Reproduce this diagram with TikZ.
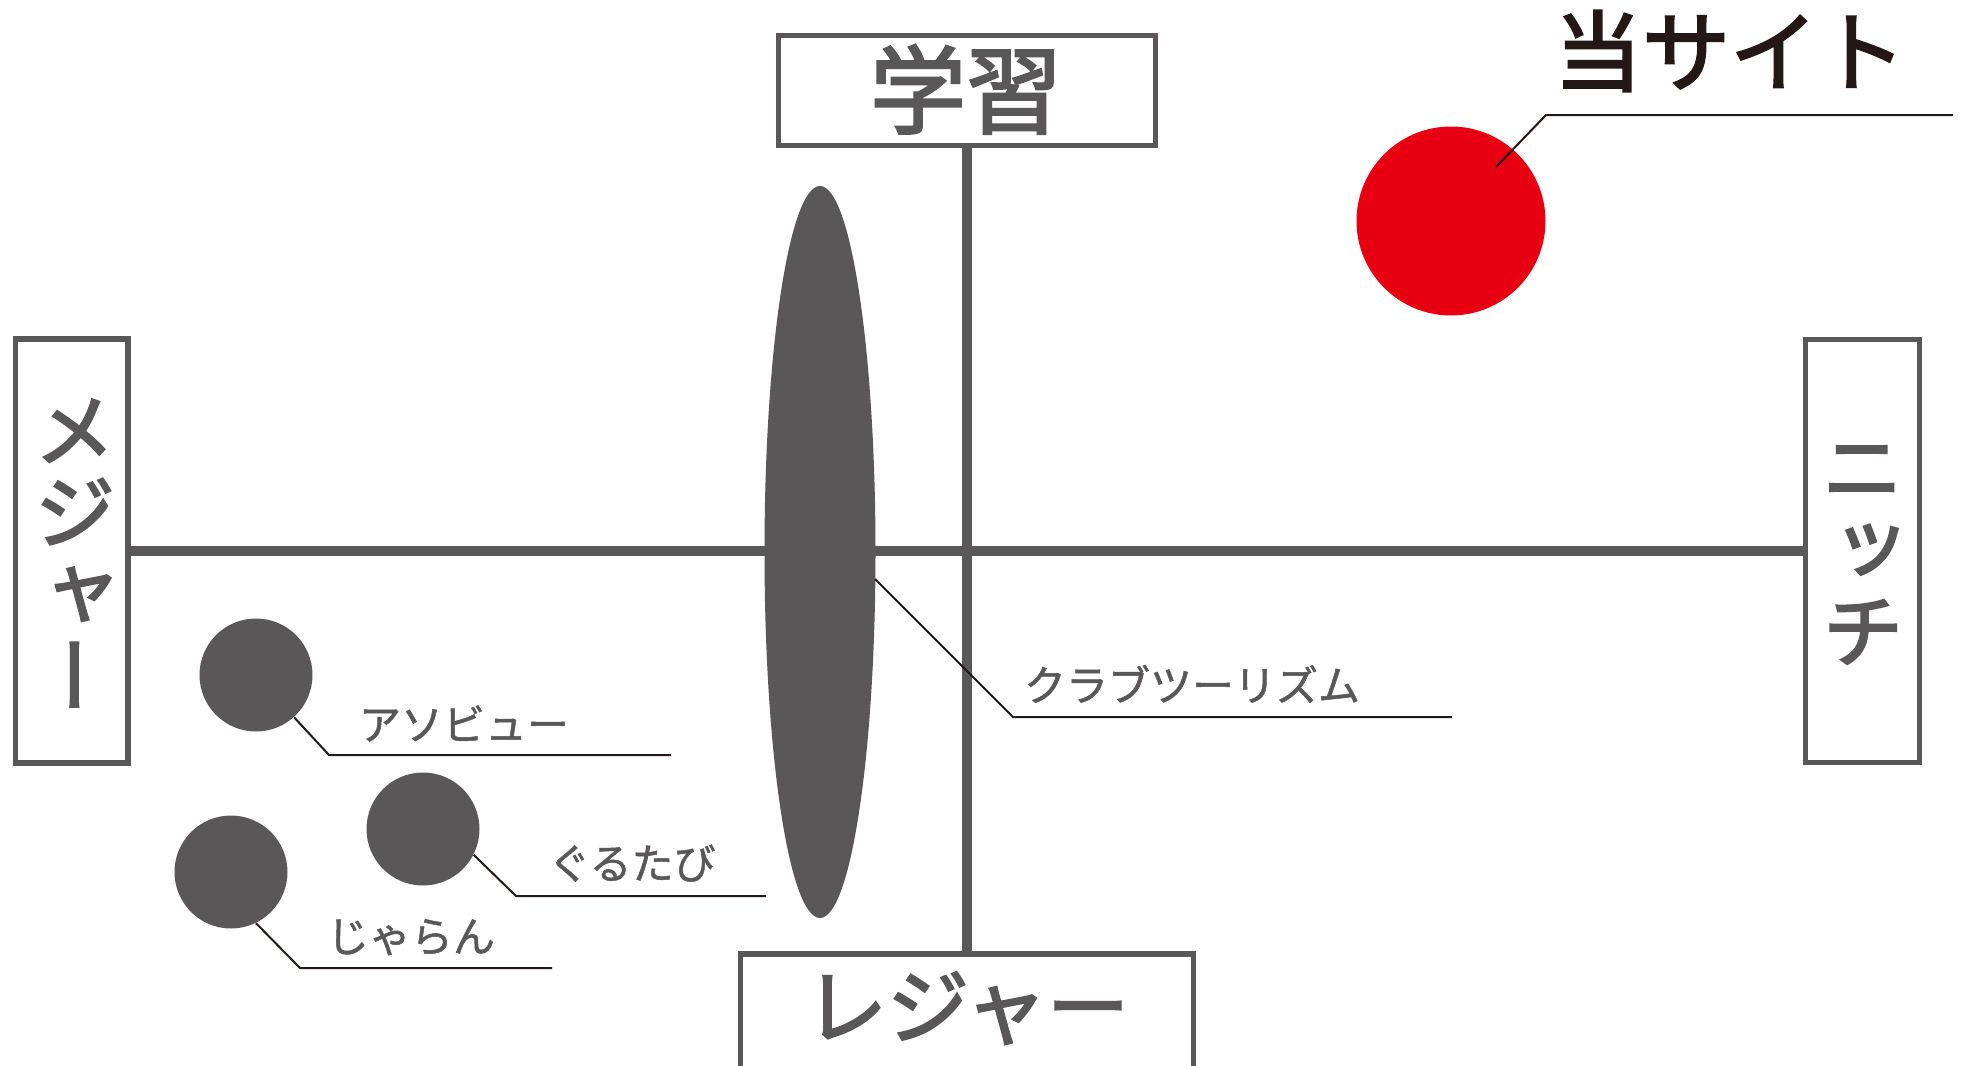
\documentclass[tikz,border=0pt]{standalone}
\usepackage{fontspec}
\setmainfont{Noto Sans CJK JP}
\newfontfamily\jp[FakeBold=1.2]{Noto Sans CJK JP}
\newfontfamily\jpb[FakeBold=2.5]{Noto Sans CJK JP}
\newfontfamily\jpv[RawFeature=+vert,FakeBold=2.5]{Noto Sans CJK JP}
\usetikzlibrary{shapes.geometric}
\definecolor{dgray}{HTML}{595757}
\definecolor{ink}{HTML}{231815}
\definecolor{sitered}{HTML}{E60012}
\tikzset{
  axisbox/.style={draw=dgray, line width=2.6pt, fill=white, inner sep=0pt},
  axisline/.style={draw=dgray, line width=5pt},
  dot/.style={circle, fill=dgray, inner sep=0pt, minimum size=56.5pt},
  leader/.style={draw=ink, line width=1pt},
  lbl/.style={text=dgray, font=\jp\fontsize{21}{21}\selectfont, inner sep=0pt, anchor=base},
  bigtxt/.style={text=dgray, inner sep=0pt, anchor=base},
  vtxt/.style={text=dgray, inner sep=0pt, align=center, font=\jpv\fontsize{41}{41}\selectfont}
}
\begin{document}
\begin{tikzpicture}[x=0.5pt,y=-0.5pt]
\clip (0,0) rectangle (1966,1066);
% boxes
\node[axisbox, minimum width=188.5pt, minimum height=55pt] (study) at (967,90.5) {};
\node[axisbox, minimum width=56.25pt, minimum height=212pt] (major) at (71.75,551) {};
\node[axisbox, minimum width=57pt, minimum height=211.5pt] (niche) at (1862.5,551) {};
\node[axisbox, minimum width=226.5pt, minimum height=90pt] (leisurebox) at (967,1044) {};
% axes
\draw[axisline] (study.south) -- (leisurebox.north);
\draw[axisline] (major.east) -- (niche.west);
% box texts
\node[bigtxt, font=\jpb\fontsize{48}{48}\selectfont] (studyT) at (966,126) {学習};
\node[bigtxt, font=\jpb\fontsize{41}{41}\selectfont] (leisureT) at (967,1037) {レジャー};
\node[vtxt] (majorT) at (75,553) {メ\\ジ\\ャ\\ー};
\node[vtxt] (nicheT) at (1862.5,555) {ニ\\ッ\\チ};
% shapes
\node[ellipse, fill=dgray, inner sep=0pt, minimum width=55.5pt, minimum height=366pt] (club) at (820,552) {};
\node[dot, fill=sitered, minimum size=94.5pt] (site) at (1451,221) {};
\node[dot] (asobi) at (256,675) {};
\node[dot] (guru) at (423,829) {};
\node[dot] (jalan) at (231,872) {};
% leader coordinates
\coordinate (siteB) at (1546,115);
\coordinate (siteC) at (1953,115);
\coordinate (clubB) at (1013,717);
\coordinate (clubC) at (1452,717);
\coordinate (asobiB) at (329,755);
\coordinate (asobiC) at (671,755);
\coordinate (guruB) at (516,896);
\coordinate (guruC) at (766,896);
\coordinate (jalanB) at (300,968);
\coordinate (jalanC) at (552,968);
% leaders
\draw[leader] ([shift={(45,-54)}]site.center) -- (siteB) -- (siteC);
\draw[leader] ([shift={(55,27)}]club.center) -- (clubB) -- (clubC);
\draw[leader] (asobi.-48) -- (asobiB) -- (asobiC);
\draw[leader] (guru.-27) -- (guruB) -- (guruC);
\draw[leader] (jalan.-64) -- (jalanB) -- (jalanC);
% labels
\node[bigtxt, text=ink, font=\jpb\fontsize{44}{44}\selectfont] (siteL) at (1730,84.5) {当サイト};
\node[lbl] (clubL) at (1192,701) {クラブツーリズム};
\node[lbl] (asobiL) at (464,740) {アソビュー};
\node[lbl] (guruL) at (632,879) {ぐるたび};
\node[lbl] (jalanL) at (411,952) {じゃらん};
\end{tikzpicture}
\end{document}
